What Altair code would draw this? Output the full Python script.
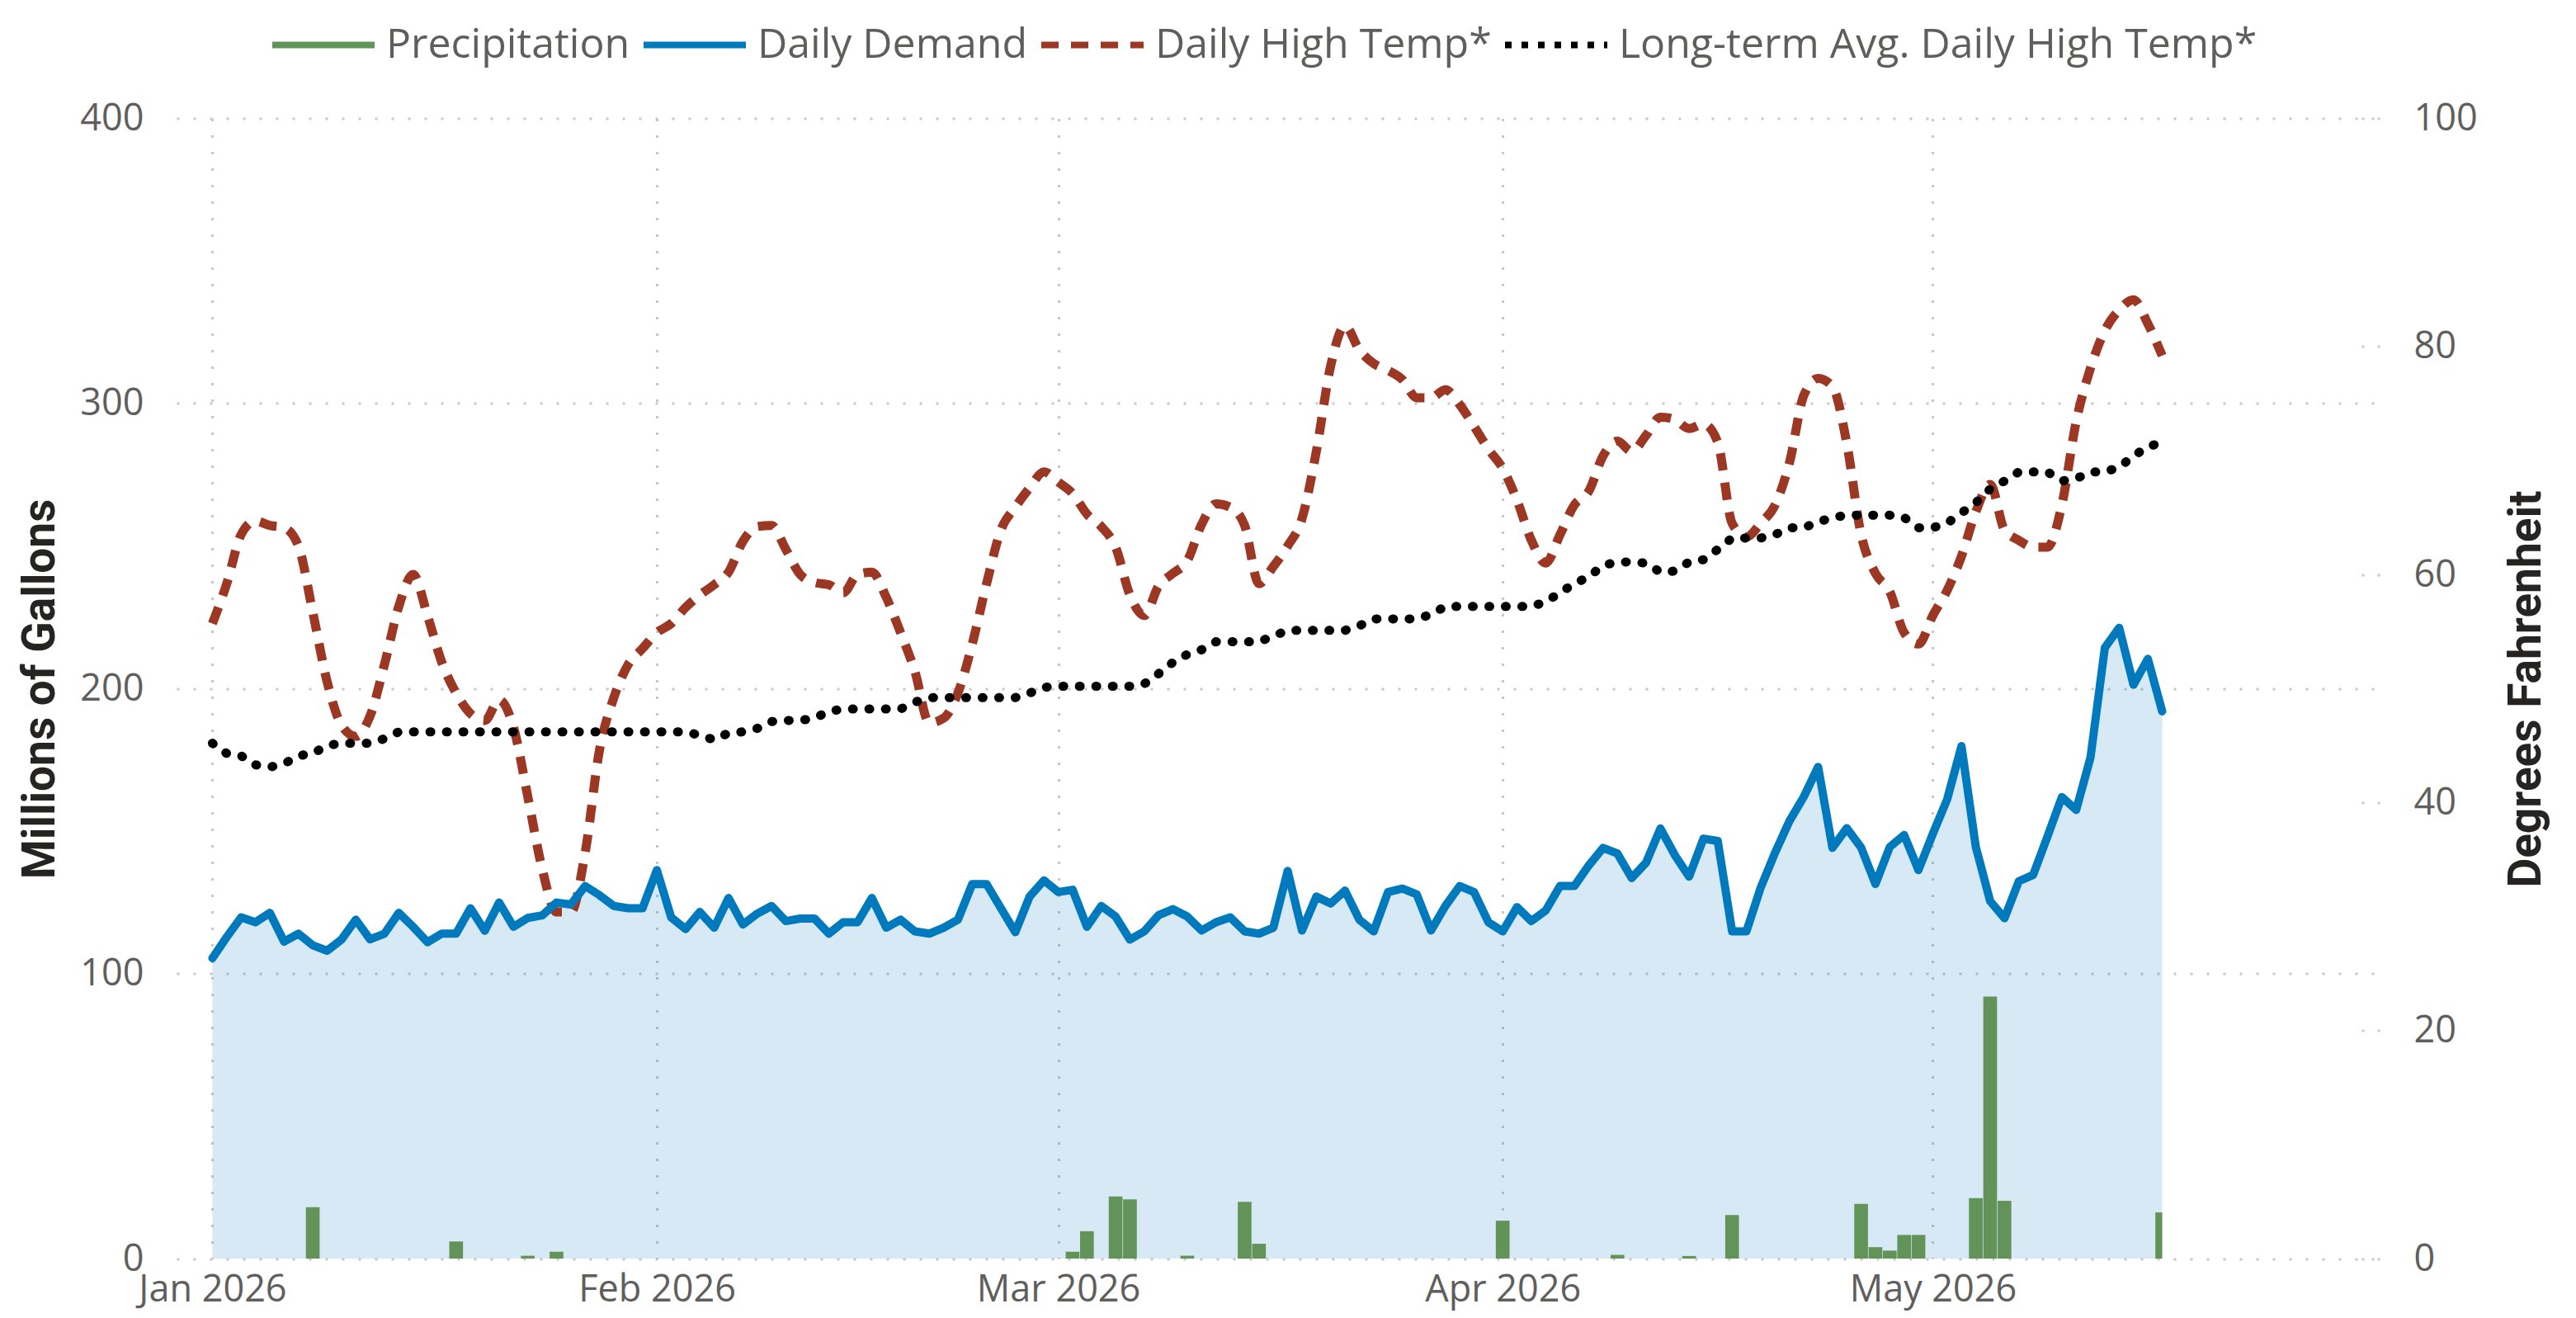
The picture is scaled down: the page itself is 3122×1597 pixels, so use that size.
import altair as alt
import pandas as pd

# ---------------- data ----------------
start_date = "2026-01-01"
n_days = 137  # Jan 1 .. May 17, 2026

demand = [
    105.4, 112.8, 119.7, 118.0, 121.3, 111.2, 114.0, 109.9, 108.0, 111.9,
    118.9, 112.0, 114.0, 121.3, 116.4, 111.0, 114.0, 114.0, 122.9, 115.0,
    124.9, 116.4, 119.5, 120.4, 124.9, 124.2, 130.7, 127.5, 123.7, 122.9,
    122.9, 136.3, 119.7, 115.6, 121.6, 116.1, 126.5, 117.2, 121.0, 123.7,
    118.4, 119.3, 119.3, 114.0, 118.0, 118.0, 126.5, 116.1, 118.9, 114.8,
    114.0, 116.1, 118.9, 131.4, 131.4, 122.9, 114.5, 127.0, 132.7, 128.6,
    129.4, 116.4, 123.7, 120.0, 111.9, 114.8, 120.5, 122.6, 120.0, 115.1,
    118.0, 119.7, 114.8, 114.0, 116.1, 136.0, 115.1, 127.0, 124.6, 129.1,
    118.9, 114.8, 128.6, 129.8, 127.8, 115.1, 123.7, 130.7, 128.6, 118.0,
    114.8, 123.3, 118.4, 122.1, 130.7, 130.7, 137.9, 144.1, 142.1, 133.5,
    138.9, 150.9, 141.6, 134.0, 147.3, 146.5, 114.8, 114.8, 130.2, 142.4,
    153.5, 162.0, 172.5, 144.1, 151.0, 144.2, 131.4, 144.4, 148.6, 136.3,
    149.0, 161.1, 179.8, 144.4, 125.4, 119.4, 132.4, 134.6, 148.1, 161.9,
    157.4, 175.8, 214.3, 221.3, 201.3, 210.4, 192.0,
]

high_temp = [
    55.7, 59.2, 63.5, 64.7, 64.3, 64.1, 62.5, 56.7, 50.6, 46.8,
    45.8, 47.6, 52.1, 57.2, 60.0, 56.4, 52.3, 49.6, 47.8, 47.2,
    49.0, 46.6, 40.5, 34.2, 30.4, 30.4, 35.6, 44.6, 49.2, 52.1,
    53.5, 54.9, 55.7, 57.1, 58.2, 59.1, 60.2, 62.9, 64.2, 64.3,
    62.2, 60.0, 59.3, 59.1, 58.4, 60.0, 60.2, 58.0, 54.9, 51.5,
    47.0, 47.4, 49.6, 53.9, 59.2, 63.9, 65.9, 67.6, 69.0, 68.1,
    67.1, 65.3, 64.2, 62.4, 58.2, 56.4, 59.0, 60.1, 61.2, 64.4,
    66.2, 65.9, 64.3, 59.2, 60.7, 62.5, 64.9, 70.8, 78.3, 81.8,
    79.7, 78.5, 77.9, 77.1, 75.5, 75.5, 76.2, 74.9, 73.0, 71.0,
    69.3, 66.5, 63.0, 61.0, 63.5, 66.1, 67.3, 70.4, 71.7, 70.8,
    72.2, 73.8, 73.6, 72.8, 73.2, 71.6, 64.5, 63.3, 64.5, 66.1,
    69.8, 75.7, 77.2, 76.5, 71.5, 63.5, 60.1, 58.5, 54.9, 53.9,
    56.4, 58.6, 61.6, 65.5, 67.9, 63.9, 63.0, 62.4, 62.4, 66.1,
    73.4, 78.1, 81.4, 83.2, 84.1, 82.0, 79.2,
]

avg_high_temp = [
    45.2, 44.3, 44.1, 43.3, 43.1, 43.4, 44.1, 44.3, 45.0, 45.2,
    45.2, 45.2, 45.6, 46.2, 46.2, 46.2, 46.2, 46.2, 46.2, 46.2,
    46.2, 46.2, 46.2, 46.2, 46.2, 46.2, 46.2, 46.2, 46.2, 46.2,
    46.2, 46.2, 46.2, 46.2, 45.9, 45.5, 46.1, 46.2, 46.5, 47.1,
    47.2, 47.2, 47.4, 48.0, 48.2, 48.2, 48.2, 48.2, 48.2, 48.8,
    49.2, 49.2, 49.2, 49.2, 49.2, 49.2, 49.2, 49.6, 50.1, 50.2,
    50.2, 50.2, 50.2, 50.2, 50.2, 50.4, 51.3, 52.3, 53.0, 53.4,
    54.1, 54.1, 54.1, 54.1, 54.6, 55.1, 55.1, 55.1, 55.1, 55.1,
    55.5, 56.1, 56.1, 56.1, 56.1, 56.5, 57.2, 57.2, 57.2, 57.2,
    57.2, 57.2, 57.2, 57.6, 58.4, 59.2, 59.8, 60.8, 61.1, 61.1,
    61.0, 60.2, 60.3, 61.1, 61.3, 62.2, 63.2, 63.2, 63.2, 63.5,
    64.1, 64.1, 64.6, 65.0, 65.2, 65.2, 65.2, 65.2, 65.0, 64.1,
    64.1, 64.5, 65.4, 66.3, 67.5, 68.2, 69.0, 69.0, 69.0, 68.2,
    68.4, 69.0, 69.0, 69.4, 70.4, 71.2, 71.6,
]

precip_dates = [
    "2026-01-08", "2026-01-18", "2026-01-23", "2026-01-25",
    "2026-03-02", "2026-03-03", "2026-03-05", "2026-03-06", "2026-03-10",
    "2026-03-14", "2026-03-15", "2026-04-01", "2026-04-09", "2026-04-14",
    "2026-04-17", "2026-04-26", "2026-04-27", "2026-04-28", "2026-04-29",
    "2026-04-30", "2026-05-04", "2026-05-05", "2026-05-06", "2026-05-17",
]
precip_values = [
    18.0, 6.0, 1.0, 2.4,
    2.4, 9.6, 21.8, 20.8, 1.0,
    19.9, 5.2, 13.3, 1.3, 0.9,
    15.3, 19.2, 4.0, 2.8, 8.3,
    8.3, 21.2, 91.9, 20.3, 16.2,
]

series_names = ["Precipitation", "Daily Demand", "Daily High Temp*",
                "Long-term Avg. Daily High Temp*"]
series_colors = ["#62945a", "#0079bd", "#9b3723", "#000000"]
series_dashes = [[1, 0], [1, 0], [21, 15], [8, 12]]
left_ticks = [0, 100, 200, 300, 400]
right_ticks = [0, 20, 40, 60, 80, 100]

# ---------------- frames ----------------
FMT = "%Y-%m-%dT%H:%M:%S"
dates = pd.date_range(start_date, periods=n_days, freq="D")
df = pd.DataFrame({
    "date": dates.strftime(FMT),
    "demand": demand,
    "temp": high_temp,
    "avg": avg_high_temp,
})
last_day = dates[-1]
p_dates = pd.to_datetime(precip_dates)
half = pd.Timedelta(hours=11.5)
bars_df = pd.DataFrame({
    "start": (p_dates - half).strftime(FMT),
    "end": [min(d + half, last_day).strftime(FMT) for d in p_dates],
    "precip": precip_values,
})

# ---------------- styling ----------------
FONT = "Open Sans"
TFONT = "Roboto"
LABEL = "#605e5c"
GRID = "#c8c8c8"
BLUE = series_colors[1]

x_scale = alt.Scale(domain=[alt.DateTime(year=2025, month=12, date=29, hours=12),
                            alt.DateTime(year=2026, month=6, date=1, hours=4)])
left_scale = alt.Scale(domain=[0, 400], nice=False)
right_scale = alt.Scale(domain=[0, 100], nice=False)

x_axis = alt.Axis(
    values=[alt.DateTime(year=2026, month=m, date=1) for m in range(1, 6)],
    format="%b %Y", title=None, grid=True, gridDash=[3, 17], gridColor=GRID,
    gridWidth=3, ticks=False, domain=False, labelFont=FONT, labelFontSize=45,
    labelColor=LABEL, labelPadding=15, labelFlush=False, labelLimit=600,
    labelOverlap=False,
)
left_axis = alt.Axis(
    title="Millions of Gallons", values=left_ticks, grid=True, gridDash=[3, 17],
    gridColor=GRID, gridWidth=3, ticks=False, domain=False, labelFont=FONT,
    labelFontSize=45, labelColor=LABEL, labelPadding=40,
    titleFont=TFONT, titleFontSize=55, titleFontWeight="bold", titleColor="#252423",
    titleAngle=270, titleX=-149, titleY=691, titleAlign="center",
    titleBaseline="alphabetic",
)
right_axis = alt.Axis(
    orient="right", title="Degrees Fahrenheit", values=right_ticks, grid=False,
    ticks=True, tickSize=22, tickDash=[3, 16], tickColor=GRID, tickWidth=3,
    offset=-22, domain=False, labelFont=FONT, labelFontSize=45, labelColor=LABEL,
    labelPadding=41, titleFont=TFONT, titleFontSize=55, titleFontWeight="bold",
    titleColor="#252423", titleAngle=270, titleX=216, titleY=691,
    titleAlign="center", titleBaseline="alphabetic",
)

legend = alt.Legend(
    orient="none", legendX=112, legendY=-155, direction="horizontal", title=None,
    symbolType="stroke", symbolSize=124 * 124, symbolStrokeWidth=8,
    labelFont=FONT, labelFontSize=50, labelColor=LABEL, labelOffset=10,
    columnPadding=0, padding=0, labelLimit=2000,
)
color_scale = alt.Scale(domain=series_names, range=series_colors)
dash_scale = alt.Scale(domain=series_names, range=series_dashes)

X = alt.X("date:T", scale=x_scale, axis=x_axis)

area = alt.Chart(df).mark_area(color=BLUE, opacity=0.16).encode(
    x=X, y=alt.Y("demand:Q", scale=left_scale, axis=left_axis))

bars = alt.Chart(bars_df).mark_bar(color=series_colors[0]).encode(
    x=alt.X("start:T", scale=x_scale, axis=x_axis), x2="end:T",
    y=alt.Y("precip:Q", scale=left_scale, axis=None), y2=alt.datum(0))

temp_line = alt.Chart(df).transform_calculate(series="'Daily High Temp*'").mark_line(
    strokeWidth=11, interpolate="monotone").encode(
    x=X, y=alt.Y("temp:Q", scale=right_scale, axis=right_axis),
    color=alt.Color("series:N", scale=color_scale, legend=legend),
    strokeDash=alt.StrokeDash("series:N", scale=dash_scale, legend=legend))

avg_line = alt.Chart(df).transform_calculate(
    series="'Long-term Avg. Daily High Temp*'").mark_line(
    strokeWidth=11, strokeDash=[1, 19], strokeCap="round").encode(
    x=X, y=alt.Y("avg:Q", scale=right_scale, axis=None),
    color=alt.Color("series:N", scale=color_scale, legend=legend))

demand_line = alt.Chart(df).transform_calculate(series="'Daily Demand'").mark_line(
    strokeWidth=10, strokeJoin="round", strokeCap="round").encode(
    x=X, y=alt.Y("demand:Q", scale=left_scale, axis=None),
    color=alt.Color("series:N", scale=color_scale, legend=legend))

chart = alt.layer(area, bars, temp_line, avg_line, demand_line).resolve_scale(
    y="independent"
).properties(
    width=2670, height=1381.5,
    padding={"left": 206, "top": 135.5, "right": 226, "bottom": 64},
    autosize=alt.AutoSizeParams(type="none"),
    background="white",
).configure_view(stroke=None)

chart.save("out.html", embed_options={"renderer": "svg", "actions": False})
